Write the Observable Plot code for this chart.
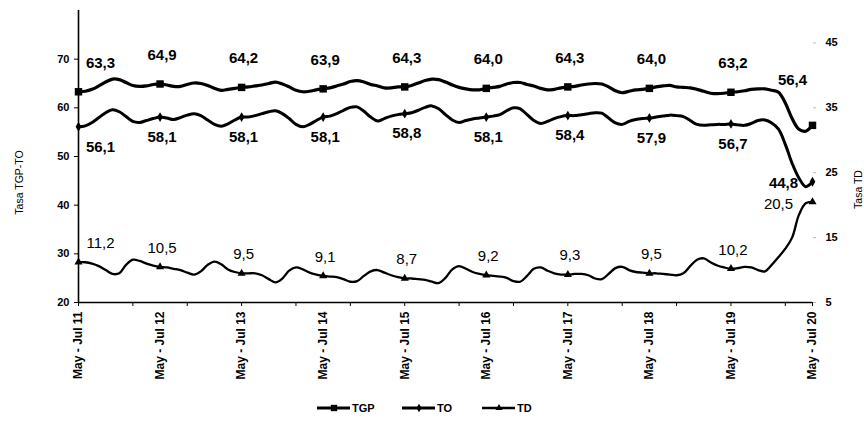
<!DOCTYPE html>
<html>
<head>
<meta charset="utf-8">
<script src="https://cdn.jsdelivr.net/npm/d3@7"></script>
<script src="https://cdn.jsdelivr.net/npm/@observablehq/plot@0.6"></script>
<style>
  html, body { margin: 0; padding: 0; background: #fff; }
  #chart { width: 864px; }
</style>
</head>
<body>
<div id="chart"></div>
<script>
// Period labels shown on the x axis (one per year, rolling quarter May-Jul)
const yearLabels = ["May - Jul 11","May - Jul 12","May - Jul 13","May - Jul 14","May - Jul 15",
                    "May - Jul 16","May - Jul 17","May - Jul 18","May - Jul 19","May - Jul 20"];

// Monthly rolling-quarter series, May-Jul 11 ... May-Jul 20 (109 points)
const tgp = [
  63.3, 63.4, 63.8, 64.5, 65.3, 65.9, 65.8, 65.2, 64.6, 64.4, 64.5, 64.8, 64.9,
  64.7, 64.4, 64.4, 64.8, 65.1, 65.0, 64.6, 64.0, 63.6, 63.8, 64.0, 64.2,
  64.3, 64.5, 64.7, 65.0, 65.3, 64.9, 64.3, 63.6, 63.3, 63.4, 63.7, 63.9,
  64.1, 64.5, 64.9, 65.4, 65.6, 65.3, 64.8, 64.5, 64.1, 64.1, 64.3, 64.3,
  64.6, 65.1, 65.6, 65.9, 65.8, 65.3, 64.7, 64.2, 63.9, 63.7, 63.7, 64.0,
  64.2, 64.4, 64.9, 65.2, 65.2, 64.8, 64.5, 64.0, 63.7, 63.8, 64.1, 64.3,
  64.4, 64.7, 64.9, 65.0, 64.9, 64.3, 63.5, 63.1, 63.4, 63.7, 63.8, 64.0,
  64.3, 64.5, 64.6, 64.3, 64.2, 64.1, 63.8, 63.4, 63.0, 62.9, 63.0, 63.2,
  63.3, 63.5, 63.8, 63.9, 63.9, 63.6, 63.2, 61.0, 57.8, 55.6, 55.2, 56.4
];
const to = [
  56.1, 56.3, 57.0, 58.0, 59.0, 59.6, 59.2, 58.2, 57.2, 57.0, 57.4, 57.8, 58.1,
  57.9, 57.6, 58.0, 58.5, 58.8, 58.4, 57.5, 56.6, 56.2, 56.7, 57.5, 58.1,
  58.1, 58.4, 58.8, 59.2, 59.4, 58.8, 57.8, 56.6, 56.1, 56.6, 57.4, 58.1,
  58.3, 58.8, 59.5, 60.1, 60.2, 59.3, 58.1, 57.3, 57.8, 58.3, 58.6, 58.8,
  59.0, 59.5, 60.1, 60.4, 59.8, 58.6, 57.5, 57.0, 57.4, 57.7, 57.9, 58.1,
  58.3, 58.6, 59.4, 60.0, 59.8, 58.6, 57.4, 56.8, 57.2, 57.8, 58.2, 58.4,
  58.4, 58.6, 58.8, 59.0, 58.9, 57.9, 56.9, 56.6, 57.2, 57.6, 57.8, 57.9,
  58.1, 58.3, 58.5, 58.4, 58.2, 57.4, 56.6, 56.4, 56.5, 56.6, 56.6, 56.7,
  56.5, 56.4, 56.8, 57.4, 57.5, 56.9, 55.6, 52.5, 48.6, 45.6, 43.8, 44.8
];
const td = [
  11.2, 11.2, 11.0, 10.6, 10.0, 9.4, 9.5, 10.8, 11.6, 11.4, 11.0, 10.7, 10.5,
  10.4, 10.2, 10.0, 9.6, 9.3, 9.8, 10.8, 11.3, 10.9, 10.1, 9.7, 9.5,
  9.5, 9.5, 9.2, 8.6, 8.1, 8.7, 9.9, 10.4, 10.1, 9.6, 9.3, 9.1,
  9.0, 8.9, 8.6, 8.2, 8.3, 9.1, 9.8, 10.0, 9.6, 9.2, 8.9, 8.7,
  8.7, 8.6, 8.5, 8.2, 8.0, 8.8, 10.1, 10.6, 10.2, 9.7, 9.4, 9.2,
  9.1, 9.0, 8.8, 8.3, 8.2, 9.1, 10.2, 10.4, 9.9, 9.5, 9.3, 9.3,
  9.4, 9.4, 9.2, 8.7, 8.6, 9.4, 10.3, 10.5, 10.0, 9.7, 9.6, 9.5,
  9.5, 9.4, 9.3, 9.2, 9.5, 10.6, 11.6, 11.8, 11.2, 10.7, 10.4, 10.2,
  10.3, 10.5, 10.4, 10.0, 9.8, 10.8, 12.0, 13.3, 15.0, 18.5, 20.3, 20.5
];

// Axis tick values
const leftTicks = [20, 30, 40, 50, 60, 70];
const rightTicks = [5, 15, 25, 35, 45];
const minorTicks = [0, 8, 16, 24, 32, 40, 48, 56, 64, 72, 80, 88, 96, 104, 108];

// Left scale 20..80, right scale 5..50
const leftDomain = [20, 80];
const rightDomain = [5, 50];
const toLeft = t => leftDomain[0] + (t - rightDomain[0]) * (leftDomain[1] - leftDomain[0]) / (rightDomain[1] - rightDomain[0]);
const fromLeft = v => rightDomain[0] + (v - leftDomain[0]) * (rightDomain[1] - rightDomain[0]) / (leftDomain[1] - leftDomain[0]);

const rows = tgp.map((v, i) => ({i, tgp: v, to: to[i], td: toLeft(td[i]), tdRaw: td[i]}));
const yearly = rows.filter(d => d.i % 12 === 0);
const last = yearly.filter(d => d.i === 108);
const first = yearly.filter(d => d.i === 0);
const inner = yearly.filter(d => d.i > 0 && d.i < 108);
const fmt = v => v.toFixed(1).replace(".", ",");
const FONT = "Liberation Sans, Arial, sans-serif";

const labelMarks = (data, dx) => [
  Plot.text(data, {x: "i", y: "tgp", text: d => fmt(d.tgp), dy: -29, dx, fontSize: 15, fontWeight: "bold", fill: "#000"}),
  Plot.text(data, {x: "i", y: "to", text: d => fmt(d.to), dy: 20, dx, fontSize: 15, fontWeight: "bold", fill: "#000"}),
  Plot.text(data, {x: "i", y: "td", text: d => fmt(d.tdRaw), dy: -19, dx, fontSize: 15, fill: "#000"})
];

const chart = Plot.plot({
  width: 864,
  height: 395,
  marginLeft: 78,
  marginRight: 52,
  marginTop: 10,
  marginBottom: 93,
  style: {fontFamily: FONT, color: "#000", background: "#fff"},
  x: {domain: [0, 108], axis: null},
  y: {domain: leftDomain, axis: null},
  marks: [
    // Left axis
    Plot.axisY({ticks: leftTicks, tickSize: 4, tickPadding: 5, fontSize: 11, fontWeight: "bold", label: null}),
    Plot.ruleX([0], {y1: leftDomain[0], y2: leftDomain[1], stroke: "#000", strokeWidth: 1.6}),
    // Right axis (TD)
    Plot.axisY({anchor: "right", ticks: rightTicks.map(toLeft), tickFormat: v => Math.round(fromLeft(v)),
                tickSize: 3, tickPadding: 10, fontSize: 11, fontWeight: "bold", stroke: "#bbb", label: null}),
    // X axis
    Plot.ruleY([leftDomain[0]], {x1: 0, x2: 108, stroke: "#000", strokeWidth: 1.6}),
    Plot.axisX({ticks: minorTicks, tickSize: 4, tickFormat: () => "", label: null}),
    Plot.axisX({ticks: yearLabels.map((_, k) => k * 12), tickSize: 0, tickPadding: 9, tickRotate: -90,
                tickFormat: i => yearLabels[i / 12], fontSize: 12, fontWeight: "bold", label: null}),
    // Axis titles
    Plot.text(["Tasa TGP-TO"], {frameAnchor: "left", textAnchor: "middle", dx: -59, dy: 26, rotate: -90, fontSize: 10.5, fill: "#000"}),
    Plot.text(["Tasa TD"], {frameAnchor: "right", textAnchor: "middle", dx: 46, dy: 33, rotate: -90, fontSize: 10.5, fill: "#000"}),
    // Lines
    Plot.line(rows, {x: "i", y: "tgp", curve: "catmull-rom", stroke: "#000", strokeWidth: 3.2}),
    Plot.line(rows, {x: "i", y: "to", curve: "catmull-rom", stroke: "#000", strokeWidth: 3}),
    Plot.line(rows, {x: "i", y: "td", curve: "catmull-rom", stroke: "#000", strokeWidth: 2.3}),
    // Markers
    Plot.dot(yearly, {x: "i", y: "tgp", symbol: "square", r: 4.2, fill: "#000", stroke: "none"}),
    Plot.dot(yearly, {x: "i", y: "to", symbol: "diamond", r: 3, fill: "#000", stroke: "none"}),
    Plot.dot(yearly, {x: "i", y: "td", symbol: "triangle", r: 3, fill: "#000", stroke: "none"}),
    // Data labels
    ...labelMarks(first, 22),
    ...labelMarks(inner, 2),
    Plot.text(last, {x: "i", y: "tgp", text: d => fmt(d.tgp), dx: -20, dy: -45, fontSize: 15, fontWeight: "bold", fill: "#000"}),
    Plot.text(last, {x: "i", y: "to", text: d => fmt(d.to), dx: -29, dy: 1, fontSize: 15, fontWeight: "bold", fill: "#000"}),
    Plot.text(last, {x: "i", y: "td", text: d => fmt(d.tdRaw), dx: -34, dy: 2, fontSize: 15, fill: "#000"})
  ]
});
document.getElementById("chart").appendChild(chart);

// Legend below the chart
const legendItems = [
  {name: "TGP", symbol: "square", x: 317},
  {name: "TO", symbol: "diamond", x: 402},
  {name: "TD", symbol: "triangle", x: 482}
];
const lsvg = d3.select("#chart").append("svg").attr("width", 864).attr("height", 39).style("display", "block");
const sym = {square: d3.symbolSquare, diamond: d3.symbolDiamond, triangle: d3.symbolTriangle};
for (const it of legendItems) {
  const g = lsvg.append("g").attr("transform", `translate(${it.x},13)`);
  g.append("line").attr("x1", 0).attr("x2", 33).attr("stroke", "#000").attr("stroke-width", it.name === "TD" ? 2.3 : 3);
  g.append("path").attr("transform", "translate(17,0)").attr("d", d3.symbol(sym[it.symbol], it.symbol === "square" ? 40 : 22)()).attr("fill", "#000");
  g.append("text").attr("x", 35).attr("y", 4).attr("font-family", FONT).attr("font-size", 11).attr("font-weight", "bold").text(it.name);
}
</script>
</body>
</html>
